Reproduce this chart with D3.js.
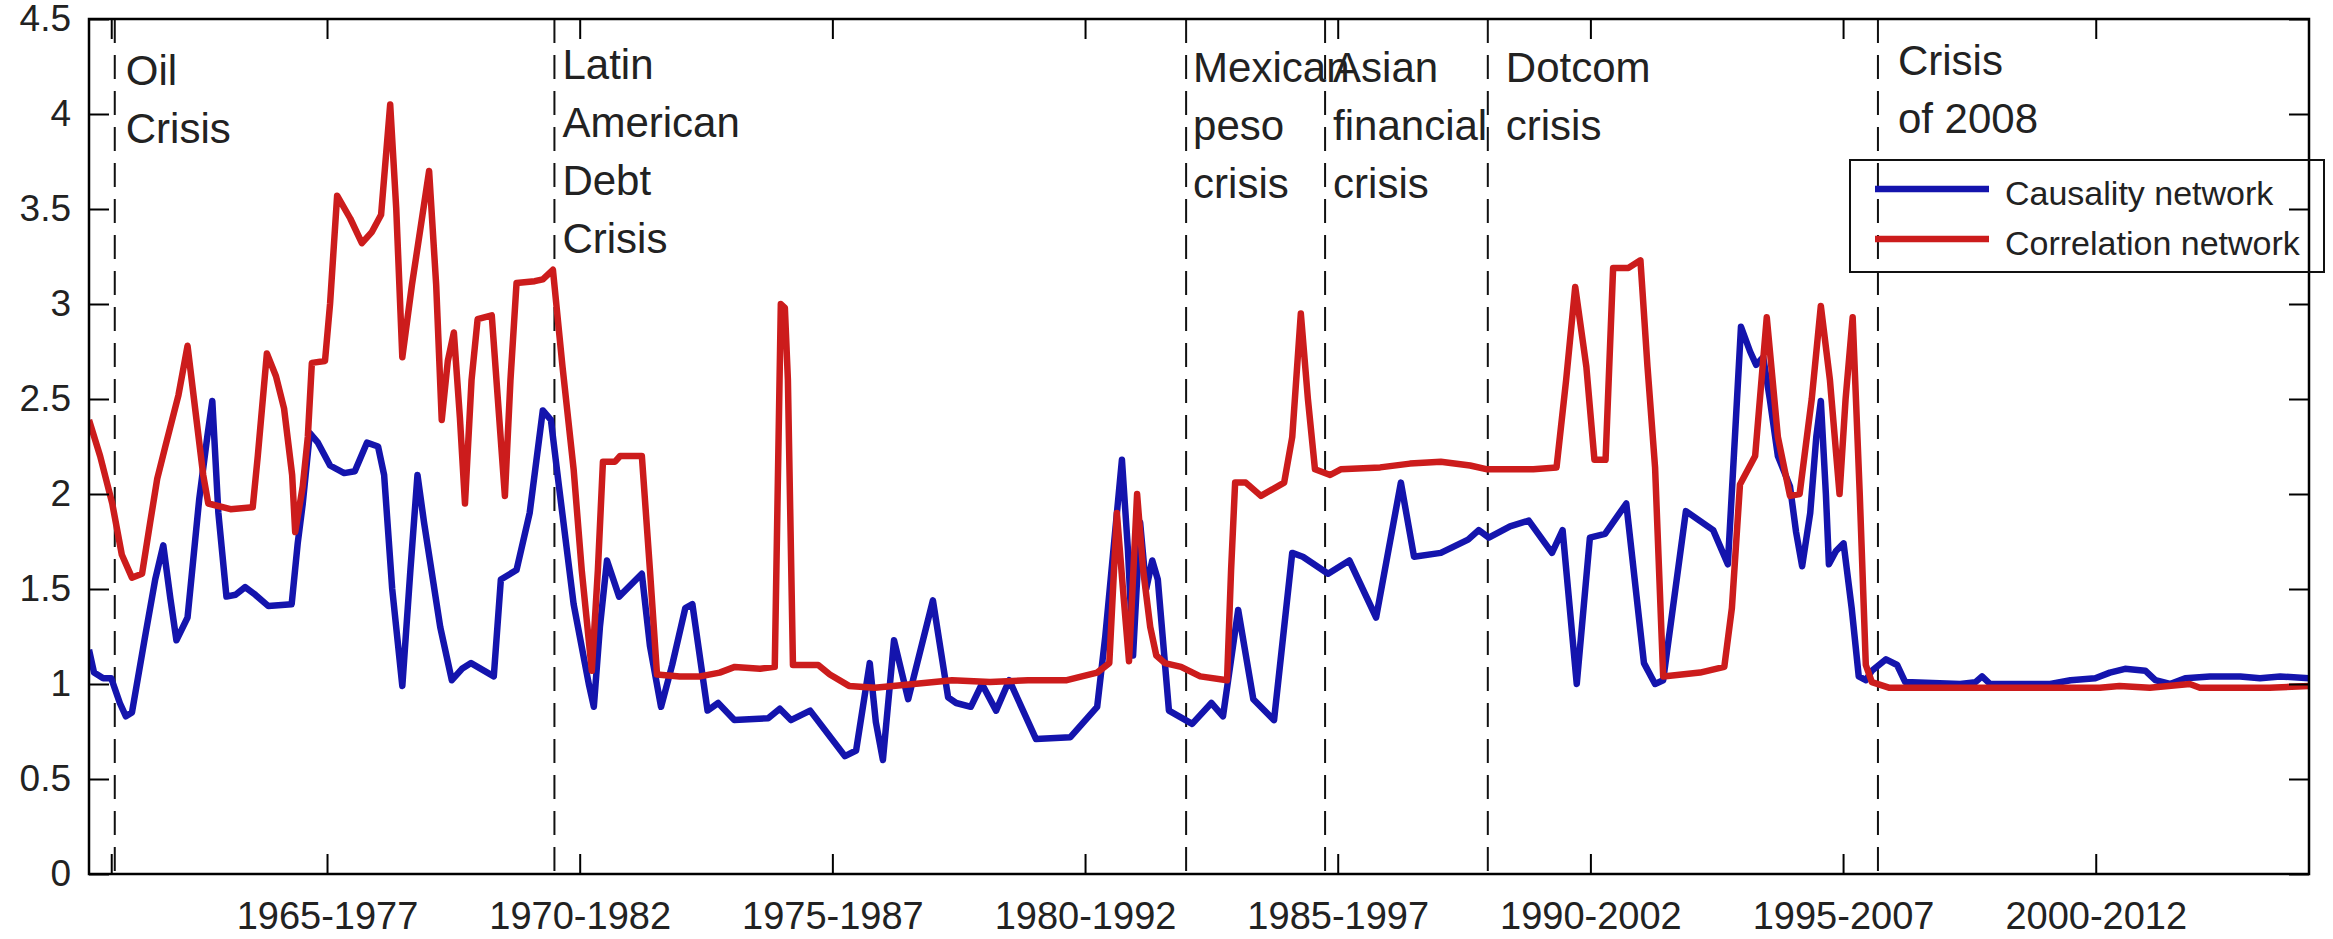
<!DOCTYPE html>
<html>
<head>
<meta charset="utf-8">
<script src="https://cdn.jsdelivr.net/npm/d3@7"></script>
<style>
  html, body { margin: 0; padding: 0; background: #fff; }
  svg { display: block; }
  text { font-family: "Liberation Sans", Arial, Helvetica, sans-serif; fill: #222; }
</style>
</head>
<body>
<svg id="chart" width="2333" height="939"></svg>
<script>
// Rolling 12-year windows, x = window start year (decimal)
const causalityYears = [
  1960.29, 1960.39, 1960.57, 1960.73, 1960.90, 1961.02, 1961.14, 1961.40, 1961.60, 1961.76,
  1961.90, 1962.02, 1962.24, 1962.47, 1962.63, 1962.73, 1962.85, 1963.01, 1963.19, 1963.38,
  1963.58, 1963.84, 1964.30, 1964.42, 1964.52, 1964.66, 1964.82, 1965.06, 1965.34, 1965.55,
  1965.79, 1966.01, 1966.13, 1966.29, 1966.49, 1966.65, 1966.79, 1966.92, 1967.24, 1967.47,
  1967.67, 1967.85, 1968.30, 1968.44, 1968.75, 1969.01, 1969.27, 1969.43, 1969.59, 1969.88,
  1970.18, 1970.28, 1970.40, 1970.54, 1970.78, 1971.23, 1971.39, 1971.61, 1971.83, 1972.09,
  1972.23, 1972.53, 1972.74, 1973.06, 1973.73, 1973.96, 1974.18, 1974.56, 1975.25, 1975.47,
  1975.74, 1975.86, 1976.00, 1976.22, 1976.50, 1976.99, 1977.29, 1977.45, 1977.74, 1977.96,
  1978.24, 1978.50, 1979.03, 1979.71, 1980.24, 1980.40, 1980.73, 1980.85, 1980.95, 1981.09,
  1981.21, 1981.33, 1981.44, 1981.66, 1982.12, 1982.50, 1982.73, 1983.03, 1983.33, 1983.74,
  1984.10, 1984.31, 1984.81, 1985.23, 1985.76, 1986.25, 1986.51, 1987.04, 1987.58, 1987.79,
  1987.99, 1988.41, 1988.78, 1989.24, 1989.45, 1989.73, 1989.99, 1990.29, 1990.71, 1991.06,
  1991.28, 1991.44, 1991.89, 1992.43, 1992.72, 1992.86, 1992.98, 1993.16, 1993.28, 1993.42,
  1993.55, 1993.71, 1993.95, 1994.07, 1994.19, 1994.35, 1994.47, 1994.56, 1994.66, 1994.72,
  1994.86, 1995.01, 1995.17, 1995.31, 1995.45, 1995.57, 1995.85, 1996.07, 1996.23, 1997.32,
  1997.62, 1997.75, 1997.91, 1999.10, 1999.50, 1999.99, 2000.28, 2000.58, 2000.98, 2001.18,
  2001.47, 2001.77, 2002.26, 2002.86, 2003.25, 2003.65, 2004.22
];
const causalityValues = [
  1.18, 1.06, 1.03, 1.03, 0.90, 0.83, 0.85, 1.25, 1.55, 1.73,
  1.45, 1.23, 1.35, 1.97, 2.30, 2.49, 1.90, 1.46, 1.47, 1.51,
  1.47, 1.41, 1.42, 1.74, 1.95, 2.32, 2.27, 2.15, 2.11, 2.12,
  2.27, 2.25, 2.10, 1.50, 0.99, 1.60, 2.10, 1.85, 1.30, 1.02,
  1.08, 1.11, 1.04, 1.55, 1.60, 1.90, 2.44, 2.39, 2.04, 1.42,
  1.00, 0.88, 1.30, 1.65, 1.46, 1.58, 1.20, 0.88, 1.10, 1.40,
  1.42, 0.86, 0.90, 0.81, 0.82, 0.87, 0.81, 0.86, 0.62, 0.65,
  1.11, 0.80, 0.60, 1.23, 0.92, 1.44, 0.93, 0.90, 0.88, 1.00,
  0.86, 1.02, 0.71, 0.72, 0.88, 1.25, 2.18, 1.70, 1.15, 1.85,
  1.50, 1.65, 1.55, 0.86, 0.79, 0.90, 0.83, 1.39, 0.92, 0.81,
  1.69, 1.67, 1.58, 1.65, 1.35, 2.06, 1.67, 1.69, 1.76, 1.81,
  1.77, 1.83, 1.86, 1.69, 1.81, 1.00, 1.77, 1.79, 1.95, 1.11,
  1.00, 1.02, 1.91, 1.81, 1.63, 2.30, 2.88, 2.75, 2.68, 2.72,
  2.50, 2.20, 2.04, 1.80, 1.62, 1.90, 2.30, 2.49, 2.00, 1.63,
  1.70, 1.74, 1.40, 1.04, 1.02, 1.07, 1.13, 1.10, 1.01, 1.00,
  1.01, 1.04, 1.00, 1.00, 1.02, 1.03, 1.06, 1.08, 1.07, 1.02,
  1.00, 1.03, 1.04, 1.04, 1.03, 1.04, 1.03
];

const correlationYears = [
  1960.29, 1960.51, 1960.75, 1960.94, 1961.14, 1961.34, 1961.50, 1961.64, 1961.80, 1962.06,
  1962.24, 1962.39, 1962.55, 1962.65, 1963.09, 1963.53, 1963.63, 1963.81, 1963.99, 1964.15,
  1964.31, 1964.37, 1964.52, 1964.62, 1964.70, 1964.96, 1965.06, 1965.20, 1965.46, 1965.69,
  1965.89, 1966.07, 1966.25, 1966.37, 1966.49, 1966.68, 1967.02, 1967.16, 1967.27, 1967.39,
  1967.51, 1967.63, 1967.73, 1967.86, 1967.98, 1968.26, 1968.38, 1968.52, 1968.63, 1968.75,
  1969.11, 1969.27, 1969.47, 1969.66, 1969.88, 1970.04, 1970.24, 1970.36, 1970.46, 1970.70,
  1970.80, 1971.23, 1971.39, 1971.53, 1971.98, 1972.38, 1972.77, 1973.07, 1973.57, 1973.86,
  1973.98, 1974.06, 1974.12, 1974.22, 1974.72, 1974.95, 1975.33, 1975.84, 1976.61, 1977.37,
  1978.12, 1978.87, 1979.64, 1980.24, 1980.48, 1980.63, 1980.75, 1980.87, 1981.03, 1981.15,
  1981.29, 1981.41, 1981.58, 1981.90, 1982.28, 1982.81, 1982.89, 1982.97, 1983.18, 1983.48,
  1983.94, 1984.10, 1984.27, 1984.41, 1984.55, 1984.85, 1985.06, 1985.84, 1986.43, 1987.04,
  1987.62, 1987.96, 1988.87, 1989.33, 1989.52, 1989.70, 1989.92, 1990.08, 1990.30, 1990.45,
  1990.75, 1990.99, 1991.13, 1991.28, 1991.44, 1992.17, 1992.65, 1992.80, 1992.96, 1993.26,
  1993.49, 1993.71, 1993.95, 1994.14, 1994.38, 1994.56, 1994.74, 1994.93, 1995.05, 1995.19,
  1995.33, 1995.45, 1995.57, 1995.92, 1998.10, 2000.08, 2000.47, 2001.07, 2001.86, 2002.06,
  2003.44, 2004.22
];
const correlationValues = [
  2.39, 2.20, 1.95, 1.68, 1.56, 1.58, 1.85, 2.08, 2.25, 2.52,
  2.78, 2.45, 2.10, 1.95, 1.92, 1.93, 2.20, 2.74, 2.62, 2.45,
  2.10, 1.80, 2.04, 2.30, 2.69, 2.70, 3.00, 3.57, 3.45, 3.32,
  3.38, 3.47, 4.05, 3.50, 2.72, 3.10, 3.70, 3.10, 2.39, 2.70,
  2.85, 2.40, 1.95, 2.60, 2.92, 2.94, 2.50, 1.99, 2.60, 3.11,
  3.12, 3.13, 3.18, 2.67, 2.13, 1.60, 1.07, 1.60, 2.17, 2.17,
  2.20, 2.20, 1.60, 1.05, 1.04, 1.04, 1.06, 1.09, 1.08, 1.09,
  3.00, 2.98, 2.60, 1.10, 1.10, 1.05, 0.99, 0.98, 1.00, 1.02,
  1.01, 1.02, 1.02, 1.06, 1.11, 1.90, 1.50, 1.12, 2.00, 1.60,
  1.30, 1.15, 1.11, 1.09, 1.04, 1.02, 1.60, 2.06, 2.06, 1.99,
  2.06, 2.30, 2.95, 2.50, 2.13, 2.10, 2.13, 2.14, 2.16, 2.17,
  2.15, 2.13, 2.13, 2.14, 2.60, 3.09, 2.67, 2.18, 2.18, 3.19,
  3.19, 3.23, 2.67, 2.14, 1.04, 1.06, 1.09, 1.40, 2.05, 2.20,
  2.93, 2.30, 1.99, 2.00, 2.50, 2.99, 2.60, 2.00, 2.50, 2.93,
  2.00, 1.10, 1.01, 0.98, 0.98, 0.98, 0.99, 0.98, 1.00, 0.98,
  0.98, 0.99
];

// Crisis markers: window start year and stacked label lines
const crisisYears = [1960.80, 1969.50, 1982.00, 1984.75, 1987.97, 1995.69];
const crisisLabels = [
  ["Oil", "Crisis"],
  ["Latin", "American", "Debt", "Crisis"],
  ["Mexican", "peso", "crisis"],
  ["Asian", "financial", "crisis"],
  ["Dotcom", "crisis"],
  ["Crisis", "of 2008"]
];

const xTickYears = [1960.73, 1965, 1970, 1975, 1980, 1985, 1990, 1995, 2000];
const xTickLabels = ["", "1965-1977", "1970-1982", "1975-1987", "1980-1992",
                     "1985-1997", "1990-2002", "1995-2007", "2000-2012"];
const yTicks = [0, 0.5, 1, 1.5, 2, 2.5, 3, 3.5, 4, 4.5];

const seriesNames = ["Causality network", "Correlation network"];
const seriesColors = ["#1414ad", "#cc1c1c"];

// ---- layout ----
const W = 2333, H = 939;
const margin = { left: 89, right: W - 2309, top: 19, bottom: H - 874 };
const innerW = W - margin.left - margin.right;
const innerH = H - margin.top - margin.bottom;

const svg = d3.select("#chart");
const g = svg.append("g").attr("transform", `translate(${margin.left},${margin.top})`);

const x = d3.scaleLinear().domain([1960.29, 2004.22]).range([0, innerW]);
const y = d3.scaleLinear().domain([0, 4.5]).range([innerH, 0]);

svg.append("defs").append("clipPath").attr("id", "plotClip")
  .append("rect").attr("width", innerW).attr("height", innerH);

// crisis dashed lines
g.append("g").selectAll("line").data(crisisYears).join("line")
  .attr("x1", d => x(d)).attr("x2", d => x(d))
  .attr("y1", 0).attr("y2", innerH)
  .attr("stroke", "#111").attr("stroke-width", 2)
  .attr("stroke-dasharray", "24,12");

// crisis labels
const labelDx = [11, 8, 7, 8, 18, 20];
const labelTop = [85, 79, 82, 82, 82, 75];
const lineGap = 58;
crisisLabels.forEach((lines, i) => {
  const t = g.append("text").style("font-size", "42px");
  lines.forEach((s, j) => {
    t.append("tspan")
      .attr("x", x(crisisYears[i]) + labelDx[i])
      .attr("y", labelTop[i] - margin.top + j * lineGap)
      .text(s);
  });
});

// series lines
const line = d3.line().x(d => x(d[0])).y(d => y(d[1]));
const series = [
  d3.zip(causalityYears, causalityValues),
  d3.zip(correlationYears, correlationValues)
];
g.append("g").attr("clip-path", "url(#plotClip)")
  .selectAll("path").data(series).join("path")
  .attr("d", line)
  .attr("fill", "none")
  .attr("stroke", (d, i) => seriesColors[i])
  .attr("stroke-width", 6.5)
  .attr("stroke-linejoin", "round");

// axes (boxed, inward ticks)
const tickLen = 20;
const styleAxis = (sel, size) => {
  sel.select(".domain").remove();
  sel.selectAll(".tick line").attr("stroke", "#000").attr("stroke-width", 2);
  sel.selectAll(".tick text").style("font-size", size + "px").attr("fill", "#222");
};

g.append("g").attr("transform", `translate(0,${innerH})`)
  .call(d3.axisBottom(x).tickValues(xTickYears)
    .tickFormat((d, i) => xTickLabels[i])
    .tickSizeInner(-tickLen).tickSizeOuter(0).tickPadding(28))
  .call(styleAxis, 38);

g.append("g")
  .call(d3.axisTop(x).tickValues(xTickYears).tickFormat("")
    .tickSizeInner(-tickLen).tickSizeOuter(0))
  .call(styleAxis, 38);

g.append("g")
  .call(d3.axisLeft(y).tickValues(yTicks).tickFormat(d3.format("~g"))
    .tickSizeInner(-tickLen).tickSizeOuter(0).tickPadding(18))
  .call(styleAxis, 37);

g.append("g").attr("transform", `translate(${innerW},0)`)
  .call(d3.axisRight(y).tickValues(yTicks).tickFormat("")
    .tickSizeInner(-tickLen).tickSizeOuter(0))
  .call(styleAxis, 37);

g.append("rect")
  .attr("width", innerW).attr("height", innerH)
  .attr("fill", "none").attr("stroke", "#000").attr("stroke-width", 2.5);

// legend
const legend = svg.append("g").attr("transform", "translate(1850,160)");
legend.append("rect")
  .attr("width", 474).attr("height", 112)
  .attr("fill", "none").attr("stroke", "#111").attr("stroke-width", 2);
seriesNames.forEach((name, i) => {
  const ly = 29 + i * 50;
  legend.append("line")
    .attr("x1", 25).attr("x2", 139).attr("y1", ly).attr("y2", ly)
    .attr("stroke", seriesColors[i]).attr("stroke-width", 6.5);
  legend.append("text")
    .attr("x", 155).attr("y", ly + 16)
    .style("font-size", "34px")
    .text(name);
});
</script>
</body>
</html>
